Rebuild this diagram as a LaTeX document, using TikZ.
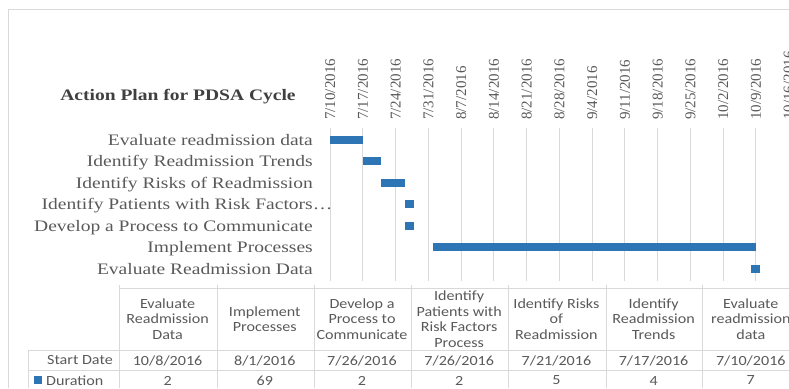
\documentclass[tikz,border=0pt]{standalone}
\usepackage{fontspec}
\setmainfont{Liberation Serif}
\newfontfamily\chartfont[FakeStretch=1.22]{Liberation Serif}
\newfontfamily\tablefont[FakeStretch=1.15]{Carlito}
\definecolor{barblue}{HTML}{2E75B6}
\definecolor{labelgray}{HTML}{595959}
\definecolor{gridgray}{HTML}{D9D9D9}
\definecolor{titlegray}{HTML}{404040}

\begin{document}
\begin{tikzpicture}[x=1pt, y=-1pt,
    tasklabel/.style={anchor=base east, inner sep=0pt, text=labelgray,
        font=\chartfont\fontsize{16}{18}\selectfont},
    datelabel/.style={rotate=90, anchor=base west, inner sep=0pt, text=labelgray,
        font=\fontsize{15}{17}\selectfont},
    cell/.style={align=center, inner sep=0pt, text=labelgray,
        font=\tablefont\fontsize{14}{15.5}\selectfont},
    gridline/.style={draw=gridgray, line width=0.8pt}]
    \useasboundingbox (0, 0) rectangle (789, 388);
    %% 一些宏定义
    \def\xzero{330}
    \def\weekw{32.75}
    \def\dayw{4.679}
    %% 定义ganttbar命令: 行, 开始日, 天数
    \newcommand{\ganttbar}[3]{
        \fill[barblue] (\xzero+#2*\dayw, #1-4) rectangle (\xzero+#2*\dayw+#3*\dayw, #1+4);
    }

    %% 外框
    \draw[gridline] (8, 388)--(8, 9)--(789, 9);

    %% 标题
    \node[anchor=base, inner sep=0pt, text=titlegray,
        font=\chartfont\bfseries\fontsize{16}{18}\selectfont] (title) at (178, 100)
        {Action Plan for PDSA Cycle};

    %% 网格线与日期
    \foreach \d [count=\i from 0] in {7/10/2016, 7/17/2016, 7/24/2016, 7/31/2016,
        8/7/2016, 8/14/2016, 8/21/2016, 8/28/2016, 9/4/2016, 9/11/2016,
        9/18/2016, 9/25/2016, 10/2/2016, 10/9/2016, 10/16/2016}{
        \ifnum \i<14
        \draw[gridline] (\xzero+\i*\weekw, 128)--(\xzero+\i*\weekw, 281);
        \fi
        \node[datelabel] (date\i) at (\xzero+\i*\weekw+5, 120) {\d};
    }

    %% 任务名称
    \foreach \t [count=\r from 0] in {Evaluate readmission data,
        Identify Readmission Trends, Identify Risks of Readmission,
        Identify Patients with Risk Factors\rlap{…},
        Develop a Process to Communicate, Implement Processes,
        Evaluate Readmission Data}{
        \node[tasklabel] (task\r) at (313, 145+21.5*\r) {\t};
    }

    %% 绘制甘特条
    \ganttbar{139.5}{0}{7};
    \ganttbar{161}{7}{4};
    \ganttbar{182.5}{11}{5};
    \ganttbar{204}{16}{2};
    \ganttbar{225.5}{16}{2};
    \ganttbar{247}{22}{69};
    \ganttbar{268.5}{90}{2};

    %% 数据表格线
    \draw[gridline] (119, 288)--(789, 288);
    \draw[gridline] (28, 350)--(789, 350);
    \draw[gridline] (28, 370)--(789, 370);
    \draw[gridline] (28, 350)--(28, 388);
    \foreach \x in {119, 217, 314, 411, 508, 606, 702}{
        \draw[gridline] (\x, 285)--(\x, 388);
    }

    %% 表格内容
    \foreach \h/\s/\n [count=\c from 0] in {
        {Evaluate\\Readmission\\Data}/{10/8/2016}/2,
        {Implement\\Processes}/{8/1/2016}/69,
        {Develop a\\Process to\\Communicate}/{7/26/2016}/2,
        {Identify\\Patients with\\Risk Factors\\Process}/{7/26/2016}/2,
        {Identify Risks\\of\\Readmission}/{7/21/2016}/5,
        {Identify\\Readmission\\Trends}/{7/17/2016}/4,
        {Evaluate\\readmission\\data}/{7/10/2016}/7}{
        \node[cell] (hdr\c) at (167.6+97.2*\c, 319) {\h};
        \node[cell] (start\c) at (167.6+97.2*\c, 360.5) {\s};
        \node[cell] (dur\c) at (167.6+97.2*\c, 380.5) {\n};
    }
    \node[cell, anchor=east] (startlabel) at (113, 360.5) {Start Date};
    \fill[barblue] (34, 376) rectangle (42, 384);
    \node[cell, anchor=west] (durlabel) at (46, 380.5) {Duration};
\end{tikzpicture}
\end{document}
